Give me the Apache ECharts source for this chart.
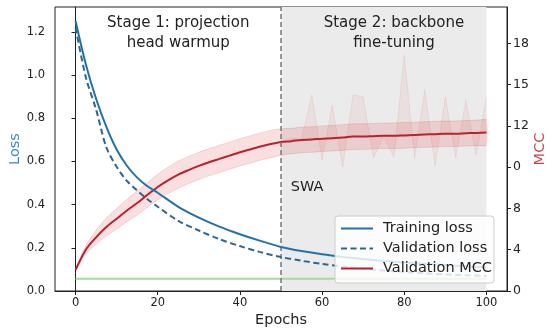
<!DOCTYPE html>
<html><head><meta charset="utf-8">
<script src="https://cdn.jsdelivr.net/npm/echarts@6/dist/echarts.min.js"></script>
<style>html,body{margin:0;padding:0;background:#fff}#c{width:553px;height:331px}</style>
</head><body><div id="c"></div>
<script>
// ---- data ----
const lossEpochs = [0,2.5,5,7.5,10,12.5,15,17.5,20,25,30,35,40,45,50,55,60,65,70,75,80,85,90,95,100];
const trainLoss = [1.25,1.05,0.89,0.76,0.655,0.58,0.525,0.485,0.455,0.39,0.34,0.298,0.263,0.232,0.204,0.185,0.17,0.158,0.148,0.139,0.132,0.126,0.12,0.115,0.11];
const valLoss = [1.22,0.99,0.84,0.665,0.575,0.51,0.465,0.425,0.39,0.325,0.28,0.24,0.208,0.18,0.157,0.14,0.125,0.113,0.103,0.095,0.088,0.082,0.077,0.073,0.07];

const mccEpochs = [0,2.5,5,7.5,10,12.5,15,17.5,20,22.5,25,27.5,30,32.5,35,37.5,40,42.5,45,47.5,50,52.5,55,57.5,60,62.5,65,67.5,70,72.5,75,77.5,80,82.5,85,87.5,90,92.5,95,97.5,100];
const mcc = [0.51,1.00,1.30,1.55,1.75,1.95,2.13,2.33,2.52,2.68,2.82,2.93,3.03,3.12,3.20,3.28,3.36,3.43,3.50,3.56,3.61,3.63,3.66,3.67,3.69,3.70,3.72,3.74,3.74,3.75,3.76,3.76,3.77,3.78,3.79,3.80,3.81,3.81,3.82,3.83,3.84];
const mccStd = [0.03,0.10,0.17,0.22,0.25,0.27,0.29,0.30,0.31,0.32,0.33,0.33,0.33,0.33,0.33,0.33,0.33,0.33,0.33,0.33,0.32,0.31,0.31,0.31,0.31,0.31,0.31,0.31,0.31,0.31,0.31,0.31,0.31,0.31,0.31,0.31,0.31,0.31,0.31,0.31,0.31];
// raw (unsmoothed) MCC during stage 2, epochs 50..100
const rawEpochs = [50,52.5,55,57.5,60,62.5,65,67.5,70,72.5,75,77.5,80,82.5,85,87.5,90,92.5,95,97.5,100];
const mccRaw = [3.61,3.70,3.68,4.75,3.17,4.50,3.00,4.75,4.70,3.22,3.75,3.24,5.71,3.22,4.87,3.03,4.70,3.24,4.62,3.29,4.70];

const baselineEpochs = [0,100];
const baseline = [0.057,0.057];

const xTicks = [0,20,40,60,80,100];
const lossTicks = [0,0.2,0.4,0.6,0.8,1.0,1.2];
const mccTickPos = [0,1,2,3,4,5,6];
const mccTickLabels = ['0','4','8','0','12','15','18'];

const swaEpoch = 50;
const stage2 = [50,100];

// ---- build ----
const zip = (xs, ys) => xs.map((x,i)=>[x, ys[i]]);
const mccLow = mcc.map((v,i)=>v - mccStd[i]);
const mccHigh = mcc.map((v,i)=>v + mccStd[i]);
const off = mccEpochs.indexOf(50);
const rawBase = rawEpochs.map((e,i)=>mcc[off+i]);

function bandSeries(name, xs, top, bottom, fill, stroke, smooth, z){
  return {
    name, type:'custom', coordinateSystem:'cartesian2d', xAxisIndex:0, yAxisIndex:1,
    silent:true, z, clip:true,
    data: zip(xs, top),
    encode:{x:0,y:1},
    renderItem:function(params, api){
      if (params.dataIndex !== 0) return null;
      const up = xs.map((x,i)=>api.coord([x, top[i]]));
      const dn = xs.map((x,i)=>api.coord([x, bottom[i]])).reverse();
      return {type:'group', children:[
        {type:'polygon', shape:{points: up.concat(dn), smooth: smooth}, style:{fill: fill, stroke: 'none'}},
        {type:'polyline', shape:{points: up, smooth: smooth}, style:{fill:'none', stroke: stroke, lineWidth:1}},
        {type:'polyline', shape:{points: dn, smooth: smooth}, style:{fill:'none', stroke: stroke, lineWidth:1}}
      ]};
    }
  };
}

const FONT = 'DejaVu Sans';
const AX = '#222';
const chart = echarts.init(document.getElementById('c'), null, {renderer:'canvas'});
chart.setOption({
  animation:false,
  textStyle:{fontFamily:FONT},
  grid:{left:55,right:46,top:7,bottom:40,show:true,borderColor:AX,borderWidth:1,backgroundColor:'#fff',
        containLabel:false, outerBoundsMode:'none'},
  legend:{
    data:['Training loss','Validation loss','Validation MCC'],
    orient:'vertical', left:335, top:216, z:20,
    itemWidth:32, itemHeight:10, itemGap:5,
    padding:[5,2,7,5],
    itemStyle:{opacity:0},
    backgroundColor:'rgba(255,255,255,0.82)', borderColor:'#cccccc', borderWidth:1, borderRadius:3,
    textStyle:{fontSize:14.5,color:AX,fontFamily:FONT,padding:[0,0,0,5]}
  },
  xAxis:{
    type:'value', min:-5, max:105,
    name:'Epochs', nameLocation:'middle', nameGap:22, nameMoveOverlap:false,
    nameTextStyle:{fontSize:14.5,color:AX},
    axisLine:{show:true,lineStyle:{color:AX}},
    axisTick:{show:true,length:4,customValues:xTicks,lineStyle:{color:AX}},
    axisLabel:{customValues:xTicks,fontSize:11.5,color:AX,margin:6},
    splitLine:{show:false}
  },
  yAxis:[{
    type:'value', min:0, max:1.315, position:'left',
    name:'Loss', nameLocation:'middle', nameGap:32, nameRotate:90, nameMoveOverlap:false,
    nameTextStyle:{fontSize:14.5,color:'#3a8bc0'},
    axisLine:{show:true,lineStyle:{color:AX}},
    axisTick:{show:true,length:4,customValues:lossTicks,lineStyle:{color:AX}},
    axisLabel:{customValues:lossTicks,fontSize:11.5,color:AX,margin:10,formatter:v=>v.toFixed(1)},
    splitLine:{show:false}
  },{
    type:'value', min:0, max:6.88, position:'right',
    name:'MCC', nameLocation:'middle', nameGap:26, nameRotate:90, nameMoveOverlap:false,
    nameTextStyle:{fontSize:14.5,color:'#c8424a'},
    axisLine:{show:true,lineStyle:{color:AX}},
    axisTick:{show:true,length:4,customValues:mccTickPos,lineStyle:{color:AX}},
    axisLabel:{customValues:mccTickPos,fontSize:12.5,color:AX,margin:6,formatter:v=>mccTickLabels[Math.round(v)]},
    splitLine:{show:false}
  }],
  series:[
    {
      name:'baseline', type:'line', data:zip(baselineEpochs, baseline), yAxisIndex:0,
      symbol:'none', silent:true, z:2,
      lineStyle:{color:'#a9d8a0',width:2},
      markArea:{silent:true,itemStyle:{color:'#ebebeb'},data:[[{xAxis:stage2[0]},{xAxis:stage2[1]}]]},
      markLine:{silent:true,symbol:'none',label:{show:false},lineStyle:{color:'#777',type:[5,3],width:1.5},data:[{xAxis:swaEpoch}]},
      markPoint:{
        silent:true, symbol:'circle', symbolSize:0,
        label:{show:true,fontSize:15,color:'#222',lineHeight:20,position:'inside',fontFamily:FONT},
        data:[
          {coord:[25,1.195],label:{formatter:'Stage 1: projection\nhead warmup'}},
          {coord:[77.5,1.195],label:{formatter:'Stage 2: backbone\nfine-tuning'}},
          {coord:[52.4,0.481],label:{formatter:'SWA',position:'right',distance:0,fontSize:14.5}}
        ]
      }
    },
    bandSeries('rawBand', rawEpochs, mccRaw, rawBase, 'rgba(214,39,40,0.06)', 'rgba(214,39,40,0.09)', 0, 2),
    bandSeries('stdBand', mccEpochs, mccHigh, mccLow, 'rgba(214,39,40,0.15)', 'rgba(214,39,40,0.15)', 0.25, 3),
    {
      name:'Validation MCC', type:'line', data:zip(mccEpochs, mcc), yAxisIndex:1,
      symbol:'none', smooth:0.3, z:4, itemStyle:{color:'#b8222f'},
      lineStyle:{color:'#b8222f',width:2}
    },
    {
      name:'Training loss', type:'line', data:zip(lossEpochs, trainLoss), yAxisIndex:0,
      symbol:'none', smooth:0.3, z:5, itemStyle:{color:'#2272a9'},
      lineStyle:{color:'#2272a9',width:2}
    },
    {
      name:'Validation loss', type:'line', data:zip(lossEpochs, valLoss), yAxisIndex:0,
      symbol:'none', smooth:0.3, z:5, itemStyle:{color:'#2c6690'},
      lineStyle:{color:'#2c6690',width:2,type:[6,3.5]}
    }
  ]
});
</script></body></html>
